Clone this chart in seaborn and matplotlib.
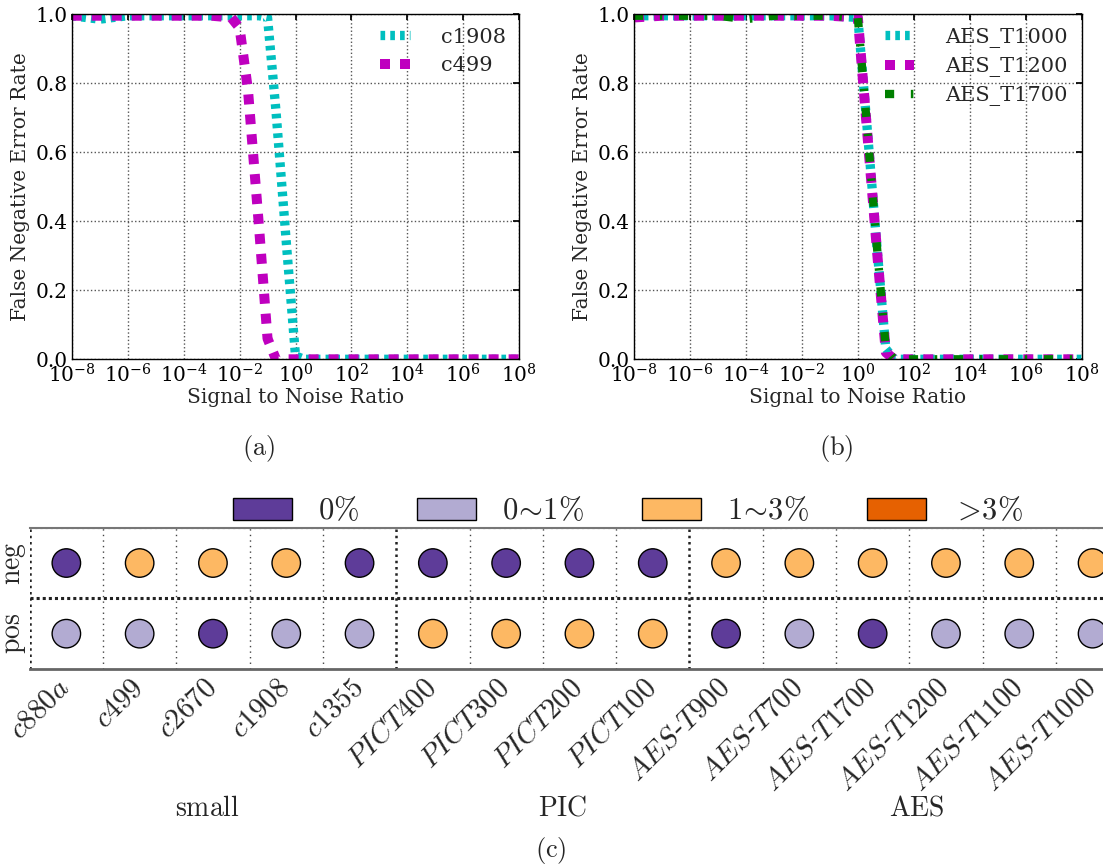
import numpy as np
import pandas as pd
import matplotlib
matplotlib.use("Agg")
import matplotlib.pyplot as plt
import matplotlib.transforms as mtransforms
import seaborn as sns
from matplotlib.patches import Patch

sns.set_theme(style="white")
plt.rcParams["font.family"] = ["DejaVu Serif"]
plt.rcParams["mathtext.fontset"] = "dejavuserif"
plt.rcParams["lines.scale_dashes"] = True

# ---------------- data: panel (a) ----------------
snr_a = [1e-8, 1e-7, 1e-6, 1e-5, 1e-4, 1e-3, 5e-3, 1e-2, 2e-2, 5e-2, 1e-1, 2e-1,
         5e-1, 1e0, 2e0, 1e1, 1e2, 1e3, 1e4, 1e5, 1e6, 1e7, 1e8]
fner_c1908 = [0.995, 0.985, 0.995, 0.995, 0.995, 0.995, 0.995, 0.995, 0.995, 0.995,
              0.99, 0.72, 0.31, 0.01, 0.0, 0.0, 0.0, 0.0, 0.0, 0.0, 0.0, 0.0, 0.0]
fner_c499 = [0.995, 0.995, 0.995, 0.995, 0.995, 0.995, 0.99, 0.96, 0.78, 0.38,
             0.06, 0.0, 0.0, 0.0, 0.0, 0.0, 0.0, 0.0, 0.0, 0.0, 0.0, 0.0, 0.0]

# ---------------- data: panel (b) ----------------
snr_b = [1e-8, 1e-7, 1e-6, 1e-5, 1e-4, 1e-3, 1e-2, 1e-1, 1e0, 2e0, 5e0, 1e1, 2e1,
         1e2, 1e3, 1e4, 1e5, 1e6, 1e7, 1e8]
fner_t1000 = [0.995, 0.995, 0.995, 0.995, 0.995, 0.995, 0.995, 0.995, 0.99, 0.70,
              0.31, 0.03, 0.0, 0.0, 0.0, 0.0, 0.0, 0.0, 0.0, 0.0]
fner_t1200 = [0.99, 0.995, 0.995, 0.995, 0.995, 0.995, 0.995, 0.995, 0.99, 0.69,
              0.30, 0.02, 0.0, 0.0, 0.0, 0.0, 0.0, 0.0, 0.0, 0.0]
fner_t1700 = [0.995, 0.995, 0.995, 0.995, 0.985, 0.995, 0.995, 0.995, 0.99, 0.70,
              0.31, 0.03, 0.0, 0.0, 0.0, 0.0, 0.0, 0.0, 0.0, 0.0]

# ---------------- data: panel (c) ----------------
benchmarks = ["c880a", "c499", "c2670", "c1908", "c1355",
              "PICT400", "PICT300", "PICT200", "PICT100",
              "AES-T900", "AES-T700", "AES-T1700", "AES-T1200", "AES-T1100", "AES-T1000"]
groups = ["small", "PIC", "AES"]
group_sizes = [5, 4, 6]
levels = ["0%", "0~1%", "1~3%", ">3%"]
level_labels = [r"$0\%$", r"$0\!\sim\!1\%$", r"$1\!\sim\!3\%$", r"$>\!3\%$"]
level_colors = ["#5e3c99", "#b2abd2", "#fdb863", "#e66101"]
neg_level = ["0%", "1~3%", "1~3%", "1~3%", "0%",
             "0%", "0%", "0%", "0%",
             "1~3%", "1~3%", "1~3%", "1~3%", "1~3%", "1~3%"]
pos_level = ["0~1%", "0~1%", "0%", "0~1%", "0~1%",
             "1~3%", "1~3%", "1~3%", "1~3%",
             "0%", "0~1%", "0%", "0~1%", "0~1%", "0~1%"]
rows = ["pos", "neg"]

W, H = 1103, 867
fig = plt.figure(figsize=(W / 100, H / 100), dpi=100)


def fig_axes(left, top, right, bottom):
    return fig.add_axes([left / W, 1 - bottom / H, (right - left) / W, (bottom - top) / H])


cyan, magenta, green = "#00bfbf", "#bf00bf", "#008000"
TICK_FS = 14.5
LABEL_FS = 14.5


def style_snr_axes(ax):
    ax.set_xscale("log")
    ax.set_xlim(1e-8, 1e8)
    ax.set_ylim(0, 1)
    ax.set_xticks([10.0 ** k for k in range(-8, 9, 2)])
    ax.set_xticks([], minor=True)
    ax.set_yticks(np.arange(0, 1.01, 0.2))
    ax.set_yticklabels([f"{v:.1f}" for v in np.arange(0, 1.01, 0.2)])
    ax.grid(True, which="major", color="#555555", linestyle=":", linewidth=1.0)
    ax.tick_params(axis="both", which="major", labelsize=TICK_FS, direction="in",
                   length=4, top=True, right=True, pad=3, colors="black")
    for s in ax.spines.values():
        s.set_color("black")
        s.set_linewidth(1.0)
    ax.set_xlabel("Signal to Noise Ratio", fontsize=LABEL_FS, labelpad=1)
    ax.set_ylabel("False Negative Error Rate", fontsize=LABEL_FS, labelpad=4)


# ---- panel (a)
ax_a = fig_axes(71.7, 14, 519.3, 359.3)
sns.lineplot(x=snr_a, y=fner_c1908, ax=ax_a, color=cyan, linewidth=6.7,
             linestyle=(0, (0.5, 0.55)), label="c1908", estimator=None)
sns.lineplot(x=snr_a, y=fner_c499, ax=ax_a, color=magenta, linewidth=7.2,
             linestyle=(0, (1, 1)), label="c499", estimator=None)
style_snr_axes(ax_a)
ax_a.legend(loc="upper right", frameon=False, fontsize=15, handlelength=1.4,
            handletextpad=1.5, labelspacing=0.45, borderaxespad=0.25)

# ---- panel (b)
ax_b = fig_axes(634, 14, 1081.7, 359.3)
sns.lineplot(x=snr_b, y=fner_t1000, ax=ax_b, color=cyan, linewidth=6.7,
             linestyle=(0, (0.5, 0.55)), label="AES_T1000", estimator=None)
sns.lineplot(x=snr_b, y=fner_t1200, ax=ax_b, color=magenta, linewidth=7.2,
             linestyle=(0, (1, 1)), label="AES_T1200", estimator=None)
sns.lineplot(x=snr_b, y=fner_t1700, ax=ax_b, color=green, linewidth=6.0,
             linestyle=(0, (1.1, 2.0, 0.3, 2.0)), label="AES_T1700", estimator=None)
style_snr_axes(ax_b)
ax_b.legend(loc="upper right", frameon=False, fontsize=15, handlelength=1.4,
            handletextpad=1.5, labelspacing=0.45, borderaxespad=0.25)

# ---- panel (c)
ncol = len(benchmarks)
col_w = 73.3
ax_c = fig_axes(29.7, 527.7, 29.7 + ncol * col_w, 669)
df = pd.DataFrame({
    "bench": list(range(ncol)) * 2,
    "row": [rows.index("neg")] * ncol + [rows.index("pos")] * ncol,
    "level": neg_level + pos_level,
})
sns.scatterplot(data=df, x="bench", y="row", hue="level", hue_order=levels,
                palette=dict(zip(levels, level_colors)), s=420, edgecolor="black",
                linewidth=1.0, legend=False, ax=ax_c, zorder=3)
ax_c.set_xlim(-0.5, ncol - 0.5)
ax_c.set_ylim(-0.5, len(rows) - 0.5)
ax_c.set_xlabel("")
ax_c.set_ylabel("")
ax_c.set_xticks(range(ncol))
ax_c.set_xticklabels([""] * ncol)
lbl_trans = ax_c.get_xaxis_transform() + mtransforms.ScaledTranslation(
    9 / 100, -4 / 100, fig.dpi_scale_trans)
for i, b in enumerate(benchmarks):
    ax_c.text(i, 0, r"$\mathit{" + b.replace("-", "}$-$\\mathit{") + "}$",
              transform=lbl_trans, rotation=45, ha="right", va="top", fontsize=21,
              fontstyle="italic", math_fontfamily="cm", clip_on=False)
ax_c.set_yticks(range(len(rows)))
ax_c.set_yticklabels([r"$\mathrm{" + r + "}$" for r in rows], rotation=90, va="center",
                     fontsize=20, math_fontfamily="cm")
ax_c.set_xticks(np.arange(-0.5, ncol, 1.0), minor=True)
ax_c.tick_params(axis="x", which="major", length=0, pad=3)
ax_c.tick_params(axis="y", which="major", length=0, pad=1)
ax_c.tick_params(axis="x", which="minor", length=3, direction="in", color="#333333", width=0.8)
ax_c.grid(False)
# column separators
bounds = np.cumsum(group_sizes)[:-1] - 0.5
for xb in np.arange(0.5, ncol - 0.5, 1.0):
    if xb in bounds:
        ax_c.axvline(xb, color="#222222", linestyle=(0, (1, 1.5)), linewidth=1.8, zorder=1)
    else:
        ax_c.axvline(xb, color="#444444", linestyle=(0, (1, 3)), linewidth=1.0, zorder=1)
ax_c.axhline(0.5, color="#222222", linestyle=(0, (1, 1)), linewidth=2.2, zorder=1)
ax_c.axhline(len(rows) - 0.5, color="#222222", linestyle=(0, (1, 1.5)), linewidth=1.5, zorder=1)
ax_c.axvline(-0.5, color="#222222", linestyle=(0, (1, 1.5)), linewidth=1.8, zorder=1)
for side in ["left", "right"]:
    ax_c.spines[side].set_visible(False)
ax_c.spines["top"].set_color("#777777")
ax_c.spines["top"].set_linewidth(1.5)
ax_c.spines["bottom"].set_color("#666666")
ax_c.spines["bottom"].set_linewidth(2.0)

handles = [Patch(facecolor=c, edgecolor="black", linewidth=1.0, label=l)
           for c, l in zip(level_colors, level_labels)]
leg = fig.legend(handles=handles, loc="center", bbox_to_anchor=(628 / W, 1 - 511 / H),
                 ncol=4, frameon=False, fontsize=22, handlelength=1.93, handleheight=0.72,
                 handletextpad=0.85, columnspacing=1.9)
for t in leg.get_texts():
    t.set_math_fontfamily("cm")

# group labels
group_x = [1.92, 6.77, 11.6]
for g, gx in zip(groups, group_x):
    t = ax_c.text(gx, 0, r"$\mathrm{" + g + "}$", transform=ax_c.get_xaxis_transform(),
                  fontsize=20, math_fontfamily="cm", ha="center", va="center")
    t.set_y(-(808 - 669) / 141.3)

# subfigure captions
for lab, (px, py) in zip(["(a)", "(b)", "(c)"], [(259, 449), (836, 449), (551, 851)]):
    fig.text(px / W, 1 - py / H, r"$\mathrm{" + lab + "}$", fontsize=19,
             math_fontfamily="cm", ha="center", va="center")

fig.savefig("out.png", dpi=100)
